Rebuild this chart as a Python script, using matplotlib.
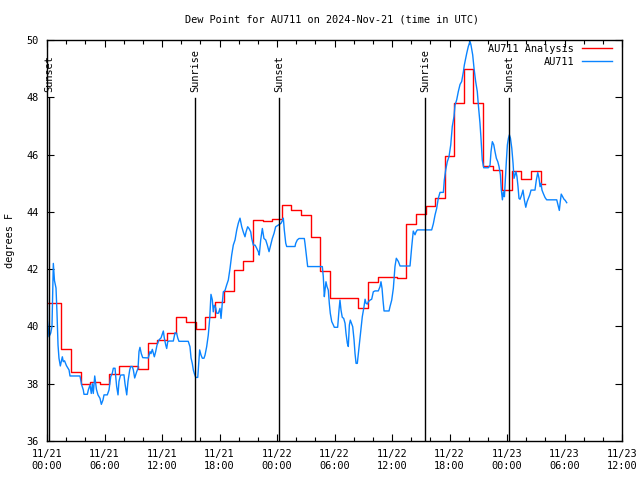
import matplotlib
matplotlib.use('Agg')
import matplotlib.pyplot as plt
import matplotlib.dates as mdates
import pandas as pd

start = pd.Timestamp('2024-11-21 00:00')

# hourly analysis (hours since 11/21 00:00 UTC -> deg F)
red_hours = list(range(53))
red_vals = [40.83, 40.83, 39.21, 38.40, 37.99, 38.06, 37.98, 38.33, 38.63, 38.63,
            38.50, 39.41, 39.53, 39.76, 40.32, 40.17, 39.91, 40.34, 40.84, 41.24,
            41.96, 42.28, 43.71, 43.67, 43.76, 44.23, 44.07, 43.89, 43.11, 41.94,
            40.98, 40.98, 40.98, 40.65, 41.54, 41.71, 41.71, 41.68, 43.57, 43.92,
            44.22, 44.47, 45.95, 47.81, 48.98, 47.79, 45.60, 45.46, 44.76, 45.41,
            45.15, 45.44, 44.96]

# station observations
blue_hours = [0.00, 0.05, 0.21, 0.39, 0.52, 0.66, 0.78, 0.94, 1.04, 1.15, 1.25, 1.39, 1.49,
              1.60, 1.70, 1.83, 2.03, 2.30, 2.40, 3.44, 3.62, 3.79, 3.86, 4.21, 4.31, 4.49,
              4.62, 4.73, 4.83, 4.98, 5.16, 5.32, 5.53, 5.67, 5.84, 5.95, 6.29, 6.47, 6.65,
              6.81, 6.92, 7.10, 7.17, 7.27, 7.41, 7.51, 7.67, 8.03, 8.14, 8.32, 8.45, 8.63,
              8.73, 8.90, 9.01, 9.15, 9.36, 9.50, 9.60, 9.70, 9.84, 9.99, 10.57, 10.75,
              10.85, 10.99, 11.20, 11.34, 11.48, 11.69, 11.90, 12.14, 12.24, 12.39, 12.49,
              12.60, 12.73, 13.18, 13.36, 13.53, 13.64, 13.77, 14.74, 14.92, 15.03, 15.16,
              15.27, 15.37, 15.52, 15.73, 15.79, 15.93, 16.07, 16.21, 16.38, 16.49, 16.66,
              16.83, 16.98, 17.11, 17.25, 17.35, 17.46, 17.60, 17.71, 17.88, 18.05, 18.16,
              18.29, 18.40, 18.57, 18.75, 18.92, 19.10, 19.27, 19.44, 19.62, 19.80, 19.96,
              20.14, 20.32, 20.48, 20.66, 20.77, 20.94, 21.08, 21.26, 21.36, 21.53, 21.71,
              21.88, 22.05, 22.15, 22.30, 22.47, 22.64, 22.82, 22.99, 23.17, 23.34, 23.51,
              23.69, 23.86, 24.14, 24.42, 24.55, 24.66, 24.76, 24.91, 25.01, 25.88, 25.95,
              26.12, 26.30, 26.85, 26.92, 27.00, 27.10, 27.20, 28.73, 28.83, 28.94, 29.01,
              29.11, 29.22, 29.35, 29.46, 29.56, 29.71, 29.88, 29.98, 30.33, 30.47, 30.57,
              30.68, 30.81, 30.96, 31.10, 31.20, 31.34, 31.44, 31.55, 31.65, 31.80, 31.90,
              32.04, 32.14, 32.25, 32.38, 32.49, 32.63, 32.77, 32.90, 33.08, 33.19, 33.29,
              33.42, 33.53, 33.71, 33.88, 34.05, 34.23, 34.57, 34.75, 34.85, 34.96, 35.06,
              35.17, 35.69, 35.79, 35.97, 36.14, 36.31, 36.45, 36.66, 36.84, 37.88, 38.06,
              38.22, 38.40, 38.51, 38.64, 40.14, 40.31, 40.49, 40.66, 40.83, 41.01, 41.36,
              41.46, 41.60, 41.77, 41.95, 42.13, 42.29, 42.47, 42.57, 42.75, 42.92, 43.10,
              43.27, 43.44, 43.55, 43.69, 43.80, 43.96, 44.14, 44.24, 44.42, 44.56, 44.73,
              44.90, 45.01, 45.18, 45.28, 45.42, 45.57, 46.05, 46.23, 46.33, 46.47, 46.62,
              46.75, 46.89, 47.04, 47.17, 47.31, 47.41, 47.52, 47.62, 47.73, 47.83, 47.94,
              48.04, 48.15, 48.25, 48.36, 48.50, 48.63, 48.73, 48.84, 48.94, 49.04, 49.15,
              49.25, 49.36, 49.53, 49.67, 49.81, 49.96, 50.09, 50.23, 50.37, 50.51, 50.92,
              51.06, 51.21, 51.34, 51.45, 51.55, 51.65, 51.79, 51.97, 52.14, 53.19, 53.35,
              53.46, 53.56, 53.66, 53.81, 53.95, 54.08, 54.23]
blue_vals = [42.96, 40.22, 39.64, 39.77, 40.00, 42.20, 41.60, 41.34, 40.50, 39.35, 38.89, 38.62, 38.77,
             38.94, 38.77, 38.80, 38.63, 38.48, 38.27, 38.27, 37.96, 37.78, 37.63, 37.63, 37.78, 37.96,
             37.66, 38.00, 37.66, 38.27, 37.80, 37.61, 37.49, 37.28, 37.43, 37.61, 37.61, 37.78, 38.25,
             38.36, 38.54, 38.54, 38.25, 37.90, 37.61, 38.08, 38.30, 38.31, 38.00, 37.61, 38.08, 38.48,
             38.60, 38.60, 38.48, 38.20, 38.42, 38.54, 39.12, 39.27, 39.05, 38.91, 38.90, 39.12,
             39.05, 39.20, 38.94, 39.12, 39.35, 39.53, 39.60, 39.84, 39.60, 39.35, 39.23,
             39.47, 39.49, 39.49, 39.78, 39.76, 39.60, 39.48, 39.48, 39.29, 38.90, 38.71,
             38.48, 38.36, 38.22, 38.22, 38.50, 39.18, 39.00, 38.89, 38.89, 39.00, 39.29,
             39.70, 40.28, 41.12, 40.93, 40.51, 40.74, 40.65, 40.46, 40.46, 40.63, 40.28,
             40.81, 41.21, 41.25, 41.45, 41.62, 42.03, 42.49, 42.84, 43.02, 43.37, 43.60,
             43.78, 43.48, 43.30, 43.13, 43.30, 43.48, 43.42, 43.30, 43.07, 42.84, 42.84,
             42.73, 42.61, 42.49, 43.02, 43.42, 43.07, 43.02, 42.84, 42.61, 42.84, 43.07,
             43.25, 43.48, 43.54, 43.60, 43.69, 43.78, 43.37, 42.91, 42.79, 42.79, 42.90,
             43.02, 43.07, 43.07, 42.90, 42.67, 42.38, 42.09, 42.09, 41.74, 41.04, 41.27,
             41.56, 41.39, 41.27, 40.80, 40.46, 40.17, 40.05, 39.97, 39.97, 40.57, 40.92,
             40.57, 40.32, 40.28, 40.11, 39.76, 39.41, 39.30, 40.05, 40.22, 40.08, 39.99,
             39.53, 39.06, 38.71, 38.71, 39.06, 39.53, 39.93, 40.34, 40.69, 40.95, 40.81,
             40.78, 40.86, 40.92, 40.95, 41.21, 41.24, 41.24, 41.39, 41.56, 41.33, 40.92,
             40.54, 40.54, 40.69, 40.92, 41.33, 42.09, 42.38, 42.27, 42.11, 42.11, 42.79,
             43.33, 43.20, 43.30, 43.37, 43.37, 43.58, 43.89, 44.12, 44.47, 44.68, 44.68,
             45.11, 45.46, 45.75, 45.93, 46.34, 46.98, 47.33, 47.72, 47.91, 48.20, 48.45,
             48.55, 48.87, 49.13, 49.36, 49.54, 49.77, 49.95, 49.83, 49.48, 49.01, 48.55,
             48.20, 47.73, 47.10, 46.60, 45.81, 45.54, 45.54, 45.63, 46.10, 46.45, 46.34,
             46.10, 45.87, 45.75, 45.58, 45.29, 44.76, 44.42, 44.70, 44.53, 45.17, 45.81,
             46.34, 46.57, 46.69, 46.57, 46.22, 45.70, 45.17, 45.29, 45.40, 45.23, 44.88,
             44.47, 44.44, 44.59, 44.76, 44.42, 44.16, 44.35, 44.47, 44.59, 44.76, 44.76,
             45.11, 45.37, 45.17, 44.88, 45.00, 44.76, 44.64, 44.50, 44.42, 44.42, 44.21,
             44.05, 44.36, 44.62, 44.53, 44.44, 44.40, 44.32]

# sunrise / sunset (hours since start)
sun_hours = [0.24, 15.48, 24.24, 39.48, 48.25]
sun_labels = ['Sunset', 'Sunrise', 'Sunset', 'Sunrise', 'Sunset']

red_t = start + pd.to_timedelta(red_hours, unit='h')
blue_t = start + pd.to_timedelta(blue_hours, unit='h')
sun_t = start + pd.to_timedelta(sun_hours, unit='h')

plt.rcParams['font.family'] = ['DejaVu Sans Mono']
fs = 7.4

fig = plt.figure(figsize=(6.4, 4.8), dpi=100)
ax = fig.add_axes([47 / 640, 39 / 480, 575 / 640, 401 / 480])

ax.plot(red_t, red_vals, color='#ff0000', lw=1.0, drawstyle='steps-mid', label='AU711 Analysis')
ax.plot(blue_t, blue_vals, color='#0a84ff', lw=1.0, label='AU711')

# sun event markers: line up to ~85% of the axis, label above it
for t, lab in zip(sun_t, sun_labels):
    ax.axvline(t, ymin=0, ymax=0.855, color='black', lw=1.0)
    ax.text(t, 48.2, lab, rotation=90, ha='center', va='bottom', fontsize=fs)

ax.set_xlim(start, start + pd.Timedelta(hours=60))
ax.set_ylim(36, 50)
ax.set_yticks(range(36, 51, 2))
ax.xaxis.set_major_locator(mdates.HourLocator(byhour=range(0, 24, 6)))
ax.xaxis.set_minor_locator(mdates.HourLocator(byhour=range(0, 24, 2)))
ax.xaxis.set_major_formatter(mdates.DateFormatter('%m/%d\n%H:%M'))
ax.tick_params(which='both', direction='in', top=True, right=True, labelsize=fs, width=0.8)
ax.tick_params(which='major', length=5, pad=6)
ax.tick_params(which='minor', length=3)
for s in ax.spines.values():
    s.set_linewidth(1.0)

fig.text(10 / 640, 1 - 240 / 480, 'degrees F', rotation=90, ha='center', va='center', fontsize=fs)
fig.text(332 / 640, 1 - 20 / 480, 'Dew Point for AU711 on 2024-Nov-21 (time in UTC)',
         ha='center', va='center', fontsize=fs)

ax.legend(loc='upper right', bbox_to_anchor=(612 / 640, 1 - 44 / 480), bbox_transform=fig.transFigure,
          frameon=False, markerfirst=False, fontsize=fs, handlelength=2.9, handletextpad=0.8,
          labelspacing=0.25, borderpad=0, borderaxespad=0)

fig.savefig('out.png', dpi=100)
